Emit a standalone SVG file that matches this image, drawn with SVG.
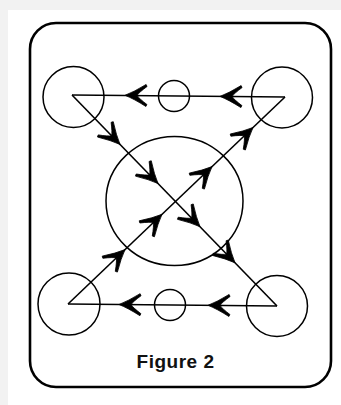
<svg xmlns="http://www.w3.org/2000/svg" xmlns:xlink="http://www.w3.org/1999/xlink" width="341" height="405" viewBox="0 0 341 405">
<style>
.nd{fill:none;stroke:#000;stroke-width:1.5}
.ln{fill:none;stroke:#000;stroke-width:1.6}
.frame{fill:none;stroke:#000;stroke-width:2.6}
.lbl{font-family:"Liberation Sans",Arial,sans-serif;font-weight:bold;font-size:19px;letter-spacing:0.5px;fill:#111}
</style>
<defs>
<path id="ah" d="M0,0 Q-9,-3.5 -21,-11 L-22,-9 Q-14,-3 -12,0 Q-14,3 -22,9 L-21,11 Q-9,3.5 0,0 Z" fill="#000" stroke="#000" stroke-width="0.8" stroke-linejoin="round"/>
</defs>
<rect x="0" y="0" width="341" height="405" fill="#f2f2f2"/>
<rect x="8" y="10" width="333" height="395" fill="#fff"/>
<rect class="frame" x="30" y="23" width="301" height="364" rx="26" ry="26"/>
<g id="node-tl"><circle class="nd" cx="73.5" cy="97" r="30.5"/></g>
<g id="node-tr"><circle class="nd" cx="282" cy="97.5" r="30.5"/></g>
<g id="node-bl"><circle class="nd" cx="69" cy="304" r="31"/></g>
<g id="node-br"><circle class="nd" cx="277" cy="306" r="30.5"/></g>
<g id="node-top-small"><circle class="nd" cx="174" cy="96" r="15.5"/></g>
<g id="node-bottom-small"><circle class="nd" cx="170" cy="305" r="15.5"/></g>
<g id="node-center"><ellipse class="nd" cx="174.5" cy="201" rx="68.5" ry="64.5"/></g>
<g id="connectors">
<line class="ln" x1="285" y1="97" x2="72" y2="95"/>
<line class="ln" x1="72" y1="95" x2="277" y2="306"/>
<line class="ln" x1="277" y1="306" x2="68" y2="304"/>
<line class="ln" x1="68" y1="304" x2="285" y2="97"/>
<use xlink:href="#ah" transform="translate(125,95.3) rotate(180.5)"/>
<use xlink:href="#ah" transform="translate(220,96.4) rotate(180.5)"/>
<use xlink:href="#ah" transform="translate(119,304.5) rotate(180.5)"/>
<use xlink:href="#ah" transform="translate(208,305.3) rotate(180.5)"/>
<use xlink:href="#ah" transform="translate(120,144.4) rotate(45.8)"/>
<use xlink:href="#ah" transform="translate(158,183.5) rotate(45.8)"/>
<use xlink:href="#ah" transform="translate(200,226.7) rotate(45.8)"/>
<use xlink:href="#ah" transform="translate(235,262.8) rotate(45.8)"/>
<use xlink:href="#ah" transform="translate(125,249.6) rotate(-43.65)"/>
<use xlink:href="#ah" transform="translate(162,214.3) rotate(-43.65)"/>
<use xlink:href="#ah" transform="translate(212,166.6) rotate(-43.65)"/>
<use xlink:href="#ah" transform="translate(253,127.5) rotate(-43.65)"/>
</g>
<text class="lbl" x="175.5" y="368" text-anchor="middle">Figure 2</text>
</svg>
